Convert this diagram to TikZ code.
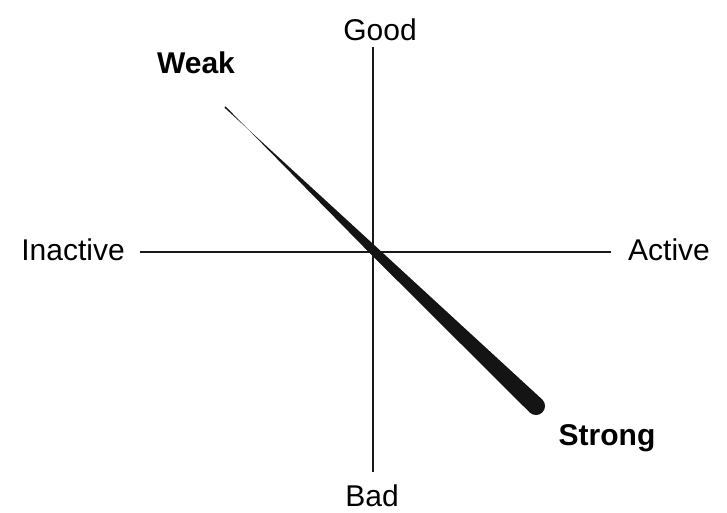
\documentclass[tikz,border=0pt]{standalone}
\usepackage{fontspec}
\setmainfont{Liberation Sans}
\usetikzlibrary{calc}

\begin{document}
\begin{tikzpicture}[
    x=1pt, y=-1pt,
    axis/.style={line width=1.6pt, draw=black!90},
    pole/.style={
      font=\fontsize{30}{36}\selectfont,
      anchor=base,
      inner sep=0pt
    },
    endpole/.style={
      pole,
      font=\fontsize{30}{36}\selectfont\bfseries
    },
    taper/.style={fill=black!92}
  ]
    \useasboundingbox (0,0) rectangle (727,512);

    % axes
    \coordinate (top) at (373,47);
    \coordinate (bottom) at (373,472);
    \coordinate (left) at (140,252);
    \coordinate (right) at (611,252);
    \draw[axis] (top) -- (bottom);
    \draw[axis] (left) -- (right);

    \node[pole] (good) at (380,40) {Good};
    \node[pole] (bad) at (372,506) {Bad};
    \node[pole] (inactive) at (73,260) {Inactive};
    \node[pole] (active) at (669,260) {Active};

    % weak -> strong
    \coordinate (weak) at (225,107);
    \coordinate (mid) at (373,250);
    \coordinate (strong) at (536,406);
    \fill[taper] ($(weak)!0.8pt!90:(strong)$)
      -- ($(mid)!4.5pt!-90:(strong)$)
      -- ($(strong)!9pt!90:(weak)$) -- ($(strong)!9pt!-90:(weak)$)
      -- ($(mid)!4.5pt!90:(strong)$)
      -- ($(weak)!0.8pt!-90:(strong)$) -- cycle;
    \fill[taper] (strong) circle[radius=9];

    \node[endpole] (weaklabel) at (196,73) {Weak};
    \node[endpole] (stronglabel) at (607,445) {Strong};
\end{tikzpicture}
\end{document}
